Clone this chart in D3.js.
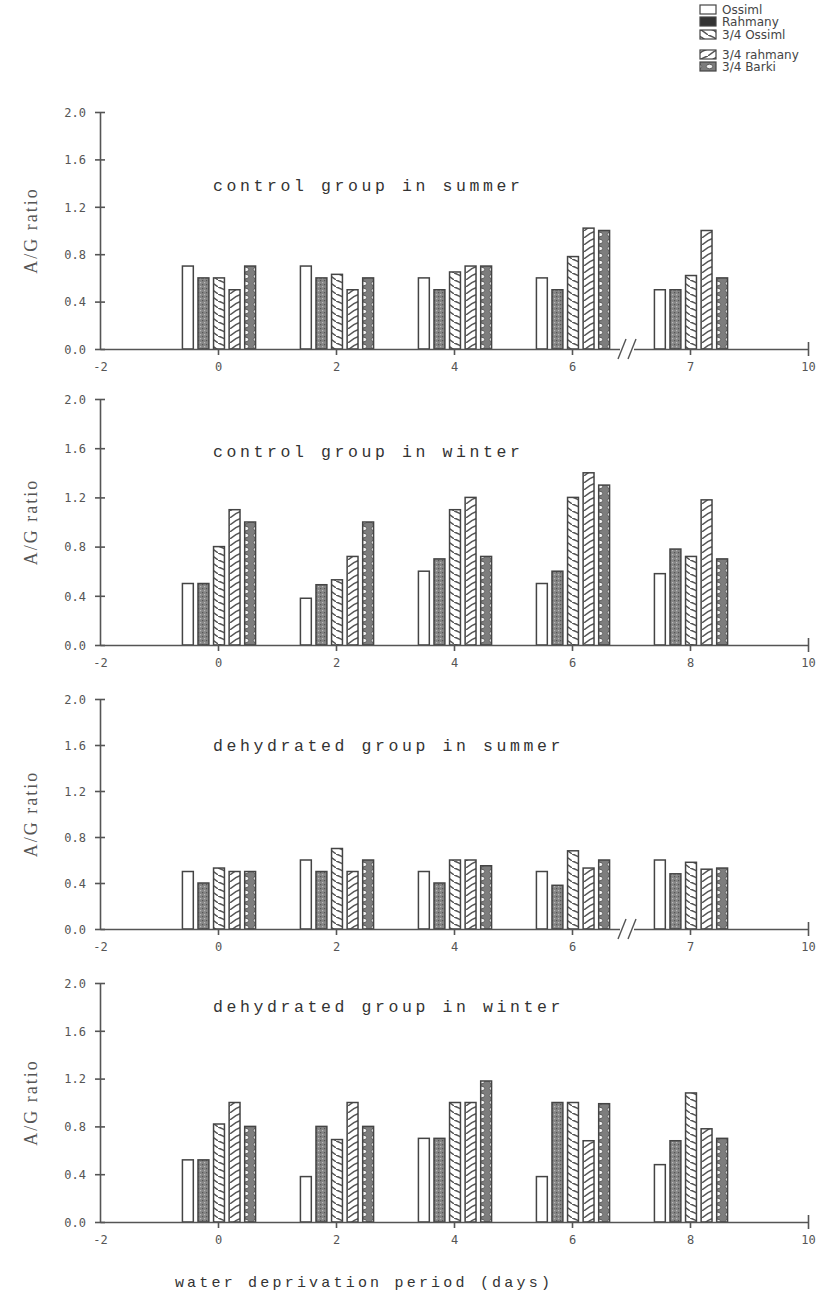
<!DOCTYPE html>
<html>
<head>
<meta charset="utf-8">
<script src="https://cdn.jsdelivr.net/npm/d3@7"></script>
<style>
  body { margin: 0; background: #fff; }
  .tick text { font-family: "DejaVu Sans Mono", monospace; font-size: 12px; fill: #555; }
  .axis path, .axis line { stroke: #555; stroke-width: 1.6; }
  .title { font-family: "Liberation Mono", monospace; font-size: 16.5px; letter-spacing: 3.6px; fill: #333; }
  .ylab { font-family: "Liberation Serif", serif; font-size: 18px; fill: #555; letter-spacing: 2px; }
  .legend text { font-family: "DejaVu Sans", sans-serif; font-size: 12px; fill: #444; }
</style>
</head>
<body>
<div id="chart"></div>
<script>
const series = ["Ossiml", "Rahmany", "3/4 Ossiml", "3/4 rahmany", "3/4 Barki"];
const days = [0, 2, 4, 6, 8];
const xTicks = [-2, 0, 2, 4, 6, 8, 10];
const xLabelsBroken = ["-2", "0", "2", "4", "6", "7", "10"];
const xLabelsPlain = ["-2", "0", "2", "4", "6", "8", "10"];
const yTicks = [0, 0.4, 0.8, 1.2, 1.6, 2.0];
const titles = ["control group in summer", "control group in winter",
  "dehydrated group in summer", "dehydrated group in winter"];

// rows = day, columns = series
const controlSummer = [
  [0.70, 0.60, 0.60, 0.50, 0.70],
  [0.70, 0.60, 0.63, 0.50, 0.60],
  [0.60, 0.50, 0.65, 0.70, 0.70],
  [0.60, 0.50, 0.78, 1.02, 1.00],
  [0.50, 0.50, 0.62, 1.00, 0.60]
];
const controlWinter = [
  [0.50, 0.50, 0.80, 1.10, 1.00],
  [0.38, 0.49, 0.53, 0.72, 1.00],
  [0.60, 0.70, 1.10, 1.20, 0.72],
  [0.50, 0.60, 1.20, 1.40, 1.30],
  [0.58, 0.78, 0.72, 1.18, 0.70]
];
const dehydratedSummer = [
  [0.50, 0.40, 0.53, 0.50, 0.50],
  [0.60, 0.50, 0.70, 0.50, 0.60],
  [0.50, 0.40, 0.60, 0.60, 0.55],
  [0.50, 0.38, 0.68, 0.53, 0.60],
  [0.60, 0.48, 0.58, 0.52, 0.53]
];
const dehydratedWinter = [
  [0.52, 0.52, 0.82, 1.00, 0.80],
  [0.38, 0.80, 0.69, 1.00, 0.80],
  [0.70, 0.70, 1.00, 1.00, 1.18],
  [0.38, 1.00, 1.00, 0.68, 0.99],
  [0.48, 0.68, 1.08, 0.78, 0.70]
];

// layout: pixel rows for each panel (top = 2.0, bottom = 0.0)
const panels = [
  { values: controlSummer, top: 112, bottom: 349, broken: true, titleAt: 1.33 },
  { values: controlWinter, top: 399, bottom: 645, broken: false, titleAt: 1.53 },
  { values: dehydratedSummer, top: 699, bottom: 929, broken: true, titleAt: 1.55 },
  { values: dehydratedWinter, top: 983, bottom: 1222, broken: false, titleAt: 1.76 }
];

const W = 820, H = 1298;
const svg = d3.select("#chart").append("svg")
  .attr("width", W).attr("height", H);

// fill patterns
const defs = svg.append("defs");
const pRah = defs.append("pattern").attr("id", "p1")
  .attr("patternUnits", "userSpaceOnUse").attr("width", 4).attr("height", 4);
pRah.append("rect").attr("width", 4).attr("height", 4).attr("fill", "#858585");
pRah.append("rect").attr("x", 0).attr("y", 0).attr("width", 1.2).attr("height", 1.2).attr("fill", "#555");
pRah.append("rect").attr("x", 2).attr("y", 2).attr("width", 1.2).attr("height", 1.2).attr("fill", "#bbb");

const pOss = defs.append("pattern").attr("id", "p2")
  .attr("patternUnits", "userSpaceOnUse").attr("width", 12).attr("height", 7);
pOss.append("rect").attr("width", 12).attr("height", 7).attr("fill", "#fff");
pOss.append("path").attr("d", "M0,0 Q7,2 12,7").attr("fill", "none")
  .attr("stroke", "#555").attr("stroke-width", 1.5);

const pRh = defs.append("pattern").attr("id", "p3")
  .attr("patternUnits", "userSpaceOnUse").attr("width", 12).attr("height", 7);
pRh.append("rect").attr("width", 12).attr("height", 7).attr("fill", "#fff");
pRh.append("path").attr("d", "M0,7 Q5,2 12,0").attr("fill", "none")
  .attr("stroke", "#555").attr("stroke-width", 1.5);

const pBar = defs.append("pattern").attr("id", "p4")
  .attr("patternUnits", "userSpaceOnUse").attr("width", 11).attr("height", 7);
pBar.append("rect").attr("width", 11).attr("height", 7).attr("fill", "#7d7d7d");
pBar.append("ellipse").attr("cx", 5.5).attr("cy", 3.5).attr("rx", 3.2).attr("ry", 2.3)
  .attr("fill", "#f2f2f2").attr("stroke", "#444").attr("stroke-width", 0.8);

const fills = ["#fff", "url(#p1)", "url(#p2)", "url(#p3)", "url(#p4)"];

const x = d3.scaleLinear().domain([-2, 10]).range([100, 808]);
const groupHalf = (x(1) - x(0)) * 0.62;
const x1 = d3.scaleBand().domain(series).range([-groupHalf + 1, groupHalf + 1]).paddingInner(0.3);

panels.forEach((p, i) => {
  const y = d3.scaleLinear().domain([0, 2]).range([p.bottom, p.top]);
  const g = svg.append("g");

  // bars
  const groups = g.selectAll(".grp")
    .data(p.values)
    .enter().append("g")
    .attr("transform", (d, j) => "translate(" + x(days[j]) + ",0)");
  groups.selectAll("rect")
    .data(d => d.map((v, k) => ({ s: series[k], v: v, k: k })))
    .enter().append("rect")
    .attr("x", d => x1(d.s))
    .attr("y", d => y(d.v))
    .attr("width", x1.bandwidth())
    .attr("height", d => y(0) - y(d.v))
    .attr("fill", d => fills[d.k])
    .attr("stroke", "#444")
    .attr("stroke-width", 1.5);

  // y axis
  const yAxis = g.append("g").attr("class", "axis")
    .attr("transform", "translate(" + x(-2) + ",0)")
    .call(d3.axisLeft(y).tickValues(yTicks).tickFormat(d3.format(".1f"))
      .tickSize(5).tickSizeOuter(0).tickPadding(9));
  yAxis.selectAll(".tick line").attr("x1", 5);
  yAxis.selectAll(".tick text").attr("dy", "0.35em");

  // x axis
  const labels = p.broken ? xLabelsBroken : xLabelsPlain;
  const xAxis = g.append("g").attr("class", "axis")
    .attr("transform", "translate(0," + y(0) + ")")
    .call(d3.axisBottom(x).tickValues(xTicks).tickFormat((d, j) => labels[j])
      .tickSize(6).tickSizeOuter(0).tickPadding(7));
  xAxis.selectAll(".tick").filter(d => d === -2).select("line").remove();
  xAxis.selectAll(".tick").filter(d => d === 10).select("line").attr("y1", -7).attr("y2", 7);

  if (p.broken) {
    const bx = x(7) - 8;
    g.append("rect").attr("x", bx - 3).attr("y", y(0) - 3).attr("width", 14).attr("height", 6).attr("fill", "#fff");
    [0, 10].forEach(off => {
      g.append("line")
        .attr("x1", bx + off - 5).attr("y1", y(0) + 10)
        .attr("x2", bx + off + 3).attr("y2", y(0) - 10)
        .attr("stroke", "#555").attr("stroke-width", 1.4);
    });
  }

  // panel title
  g.append("text").attr("class", "title")
    .attr("x", 213).attr("y", y(p.titleAt))
    .text(titles[i]);

  // y label
  g.append("text").attr("class", "ylab")
    .attr("transform", "translate(37," + ((p.top + p.bottom) / 2) + ") rotate(-90)")
    .attr("text-anchor", "middle")
    .text("A/G ratio");
});

// x label
svg.append("text").attr("class", "title")
  .attr("x", 364).attr("y", 1287)
  .attr("text-anchor", "middle")
  .style("font-size", "15px").style("letter-spacing", "3.2px")
  .text("water deprivation period (days)");

// legend
const legendRows = [5, 17, 30, 50, 62];
const legend = svg.append("g").attr("class", "legend");
series.forEach((s, k) => {
  legend.append("rect")
    .attr("x", 700).attr("y", legendRows[k])
    .attr("width", 16).attr("height", 9)
    .attr("fill", k === 1 ? "#333" : fills[k])
    .attr("stroke", "#444").attr("stroke-width", 1.2);
  legend.append("text")
    .attr("x", 722).attr("y", legendRows[k] + 9)
    .text(s);
});
</script>
</body>
</html>
